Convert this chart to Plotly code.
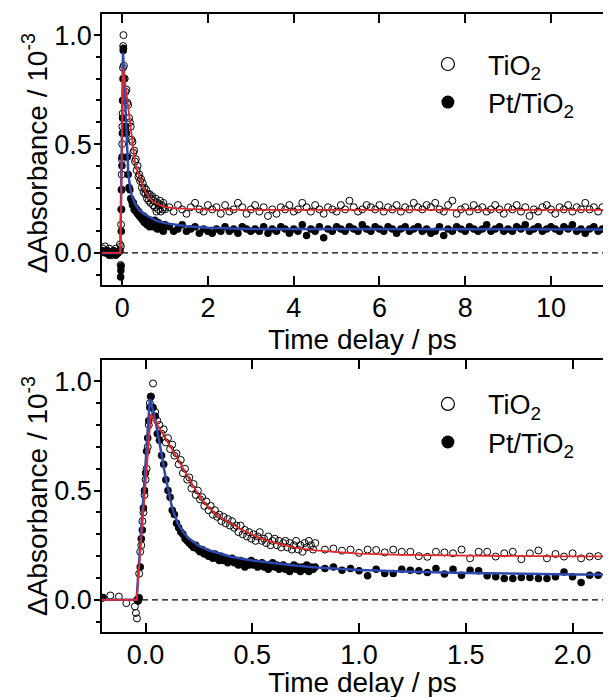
import numpy as np
import plotly.graph_objects as go


def grid(a, b, s):
    return [float(v) for v in np.round(np.arange(a, b + s / 2, s), 3)]


# ---------------- top panel (long scan) ----------------
top_t = (grid(-0.45, -0.05, 0.05) + grid(-0.035, 0.03, 0.005)
         + grid(0.04, 1.0, 0.02) + grid(1.1, 11.4, 0.1))

top_tio2 = (
    [0.02, 0.03, 0.01, 0.02, -0.01, 0.01, 0.02, 0.0, 0.04]
    + [-0.055, 0.03, 0.13, 0.2, 0.29, 0.36, 0.43, 0.5, 0.58, 0.64, 0.7, 0.85, 0.95, 1.0]
    + [0.86, 0.80, 0.74, 0.75, 0.69, 0.68, 0.62, 0.60, 0.58, 0.52,
       0.51, 0.46, 0.47, 0.42, 0.43, 0.38, 0.40, 0.35, 0.36, 0.33,
       0.34, 0.30, 0.32, 0.28, 0.30, 0.27, 0.29, 0.25, 0.27, 0.24,
       0.27, 0.23, 0.25, 0.26, 0.22, 0.24, 0.21, 0.25, 0.19, 0.23,
       0.20, 0.22, 0.24, 0.19, 0.22, 0.20, 0.23, 0.21, 0.20]
    + [0.21, 0.19, 0.22, 0.20, 0.18, 0.21, 0.23, 0.20, 0.19, 0.22,
       0.20, 0.21, 0.18, 0.22, 0.19, 0.20, 0.23, 0.21, 0.18, 0.20,
       0.22, 0.19, 0.21, 0.17, 0.20, 0.18, 0.21, 0.20, 0.22, 0.19,
       0.20, 0.23, 0.21, 0.19, 0.22, 0.20, 0.18, 0.21, 0.20, 0.19,
       0.22, 0.20, 0.24, 0.21, 0.19, 0.20, 0.22, 0.21, 0.20, 0.22,
       0.19, 0.21, 0.20, 0.22, 0.19, 0.21, 0.20, 0.23, 0.21, 0.20,
       0.22, 0.21, 0.23, 0.20, 0.19, 0.22, 0.24, 0.18, 0.20, 0.21,
       0.19, 0.22, 0.20, 0.21, 0.19, 0.20, 0.22, 0.20, 0.18, 0.21,
       0.20, 0.22, 0.19, 0.21, 0.17, 0.20, 0.19, 0.21, 0.22, 0.20,
       0.18, 0.21, 0.20, 0.22, 0.19, 0.21, 0.20, 0.23, 0.20, 0.21,
       0.19, 0.21, 0.20, 0.22]
)

top_pt = (
    [0.01, 0.0, 0.01, -0.01, 0.0, 0.01, -0.01, 0.0, 0.01]
    + [-0.11, -0.08, -0.06, 0.1, 0.2, 0.29, 0.4, 0.44, 0.55, 0.62, 0.7, 0.8, 0.93, 0.94]
    + [0.80, 0.70, 0.58, 0.55, 0.44, 0.36, 0.30, 0.29, 0.25, 0.24,
       0.22, 0.23, 0.20, 0.21, 0.19, 0.20, 0.18, 0.19, 0.17, 0.18,
       0.16, 0.17, 0.15, 0.17, 0.14, 0.16, 0.15, 0.13, 0.15, 0.14,
       0.12, 0.15, 0.13, 0.14, 0.12, 0.13, 0.15, 0.12, 0.13, 0.11,
       0.14, 0.12, 0.13, 0.11, 0.13, 0.12, 0.10, 0.12, 0.13]
    + [0.12, 0.10, 0.11, 0.13, 0.10, 0.11, 0.12, 0.09, 0.11, 0.10,
       0.09, 0.11, 0.10, 0.12, 0.10, 0.11, 0.09, 0.12, 0.11, 0.10,
       0.11, 0.10, 0.12, 0.09, 0.11, 0.10, 0.12, 0.11, 0.09, 0.11,
       0.10, 0.13, 0.08, 0.11, 0.10, 0.12, 0.07, 0.11, 0.10, 0.12,
       0.11, 0.10, 0.12, 0.11, 0.10, 0.13, 0.11, 0.10, 0.12, 0.11,
       0.10, 0.12, 0.11, 0.09, 0.11, 0.12, 0.10, 0.11, 0.12, 0.10,
       0.11, 0.09, 0.10, 0.12, 0.08, 0.11, 0.10, 0.12, 0.11, 0.10,
       0.12, 0.11, 0.10, 0.11, 0.13, 0.10, 0.11, 0.12, 0.10, 0.11,
       0.10, 0.12, 0.11, 0.13, 0.10, 0.11, 0.12, 0.10, 0.11, 0.12,
       0.11, 0.10, 0.12, 0.11, 0.13, 0.10, 0.11, 0.09, 0.11, 0.12,
       0.10, 0.11, 0.12, 0.11]
)

# ---------------- bottom panel (fine scan) ----------------
bot_t = ([-0.20, -0.165, -0.125, -0.09] + [-0.05, -0.045, -0.04]
         + grid(-0.035, 0.02, 0.005) + grid(0.025, 0.795, 0.01) + grid(0.84, 2.20, 0.04))

bot_tio2 = (
    [0.01, 0.02, 0.015, -0.015]
    + [-0.03, -0.06, -0.085]
    + [0.0, 0.12, 0.22, 0.25, 0.36, 0.40, 0.48, 0.55, 0.60, 0.70, 0.80, 0.90]
    + [0.93, 0.99, 0.86, 0.82, 0.80, 0.76, 0.78, 0.72, 0.74, 0.69,
       0.71, 0.66, 0.67, 0.62, 0.64, 0.58, 0.60, 0.55, 0.56, 0.51,
       0.53, 0.48, 0.50, 0.46, 0.47, 0.43, 0.45, 0.41, 0.43, 0.39,
       0.41, 0.38, 0.39, 0.36, 0.38, 0.35, 0.37, 0.34, 0.36, 0.33,
       0.34, 0.31, 0.34, 0.30, 0.32, 0.29, 0.31, 0.28, 0.30, 0.27,
       0.29, 0.31, 0.27, 0.28, 0.26, 0.29, 0.25, 0.27, 0.28, 0.25,
       0.27, 0.24, 0.26, 0.27, 0.24, 0.26, 0.23, 0.25, 0.27, 0.23,
       0.25, 0.22, 0.26, 0.24, 0.27, 0.25, 0.23, 0.26]
    + [0.23, 0.235, 0.225, 0.23, 0.215, 0.23, 0.228, 0.217, 0.23, 0.22,
       0.22, 0.20, 0.197, 0.22, 0.217, 0.213, 0.23, 0.19, 0.22, 0.22,
       0.198, 0.213, 0.22, 0.186, 0.213, 0.226, 0.19, 0.21, 0.198, 0.213,
       0.19, 0.198, 0.2, 0.2, 0.2]
)

bot_pt = (
    [0.01, None, None, None]
    + [None, None, 0.0]
    + [-0.005, 0.01, 0.15, 0.28, 0.32, 0.42, 0.50, 0.58, 0.68, 0.74, 0.82, 0.88]
    + [0.93, 0.88, 0.84, 0.76, 0.73, 0.66, 0.62, 0.55, 0.50, 0.47,
       0.41, 0.39, 0.35, 0.33, 0.31, 0.30, 0.28, 0.27, 0.26, 0.25,
       0.24, 0.25, 0.23, 0.22, 0.23, 0.21, 0.22, 0.20, 0.21, 0.19,
       0.21, 0.19, 0.18, 0.20, 0.18, 0.19, 0.17, 0.18, 0.19, 0.17,
       0.18, 0.16, 0.18, 0.17, 0.15, 0.17, 0.16, 0.18, 0.16, 0.17,
       0.15, 0.16, 0.17, 0.15, 0.16, 0.14, 0.16, 0.17, 0.15, 0.16,
       0.14, 0.15, 0.16, 0.14, 0.15, 0.13, 0.15, 0.16, 0.14, 0.15,
       0.13, 0.15, 0.14, 0.16, 0.13, 0.15, 0.14, 0.15]
    + [0.144, 0.15, 0.136, 0.144, 0.133, 0.11, 0.14, 0.121, 0.121, 0.14,
       0.136, 0.133, 0.125, 0.144, 0.118, 0.14, 0.113, 0.136, 0.133, 0.11,
       0.106, 0.098, 0.098, 0.102, 0.102, 0.098, 0.098, 0.106, 0.128, 0.106,
       0.079, 0.113, 0.113, 0.11, 0.11]
)

# ---------------- fitted curves ----------------
fit_t_tio2 = [-0.5, -0.042, 0.025, 0.05, 0.075, 0.1, 0.125, 0.15, 0.175, 0.2,
              0.225, 0.25, 0.275, 0.3, 0.35, 0.4, 0.45, 0.5, 0.55, 0.6,
              0.65, 0.7, 0.75, 0.8, 0.9, 1.0, 1.2, 1.5, 2.0, 3.0, 11.5]
fit_tio2 = [0, 0, 0.85, 0.81, 0.77, 0.73, 0.69, 0.647, 0.602, 0.558,
            0.515, 0.477, 0.445, 0.418, 0.378, 0.348, 0.322, 0.298, 0.278, 0.262,
            0.249, 0.239, 0.232, 0.226, 0.218, 0.212, 0.206, 0.202, 0.199, 0.198, 0.198]

fit_t_pt = [-0.5, -0.042, 0.02, 0.03, 0.04, 0.05, 0.06, 0.07, 0.08, 0.09,
            0.1, 0.11, 0.12, 0.13, 0.14, 0.15, 0.16, 0.18, 0.2, 0.225,
            0.25, 0.3, 0.35, 0.4, 0.5, 0.6, 0.7, 0.8, 1.0, 1.25,
            1.5, 2.0, 2.5, 3.0, 11.5]
fit_pt = [0, 0, 0.92, 0.89, 0.85, 0.80, 0.75, 0.70, 0.64, 0.58,
          0.53, 0.48, 0.44, 0.405, 0.375, 0.352, 0.335, 0.305, 0.283, 0.263,
          0.247, 0.226, 0.21, 0.197, 0.18, 0.168, 0.157, 0.148, 0.137, 0.129,
          0.123, 0.116, 0.112, 0.110, 0.108]

legend_names = ["TiO<sub>2</sub>", "Pt/TiO<sub>2</sub>"]
x_title = "Time delay / ps"
y_title = "ΔAbsorbance / 10<sup>-3</sup>"

assert len(top_t) == len(top_tio2) == len(top_pt)
assert len(bot_t) == len(bot_tio2) == len(bot_pt)
assert len(fit_t_tio2) == len(fit_tio2) and len(fit_t_pt) == len(fit_pt)

RED = "#e2282b"
BLUE = "#2d48ae"
FONT = "Arial, Liberation Sans, sans-serif"

fig = go.Figure()

panels = [("x", "y", top_t, top_tio2, top_pt, "legend"),
          ("x2", "y2", bot_t, bot_tio2, bot_pt, "legend2")]
for xa, ya, t, v_tio2, v_pt, leg in panels:
    fig.add_trace(go.Scatter(x=t, y=v_pt, mode="markers", xaxis=xa, yaxis=ya,
                             marker=dict(symbol="circle", size=7.5, color="black"),
                             showlegend=False, hoverinfo="skip"))
    fig.add_trace(go.Scatter(x=t, y=v_tio2, mode="markers", xaxis=xa, yaxis=ya,
                             marker=dict(symbol="circle-open", size=7, color="black",
                                         line=dict(width=1, color="black")),
                             showlegend=False, hoverinfo="skip"))
    fig.add_trace(go.Scatter(x=fit_t_pt, y=fit_pt, mode="lines", xaxis=xa, yaxis=ya,
                             line=dict(color=BLUE, width=2.5), showlegend=False,
                             hoverinfo="skip"))
    fig.add_trace(go.Scatter(x=fit_t_tio2, y=fit_tio2, mode="lines", xaxis=xa, yaxis=ya,
                             line=dict(color=RED, width=1.8), showlegend=False,
                             hoverinfo="skip"))
    # legend entries
    fig.add_trace(go.Scatter(x=[None], y=[None], mode="markers", xaxis=xa, yaxis=ya,
                             name=legend_names[0], legend=leg,
                             marker=dict(symbol="circle-open", size=13, color="black",
                                         line=dict(width=1.2, color="black"))))
    fig.add_trace(go.Scatter(x=[None], y=[None], mode="markers", xaxis=xa, yaxis=ya,
                             name=legend_names[1], legend=leg,
                             marker=dict(symbol="circle", size=13, color="black")))

tickfont = dict(family=FONT, size=27, color="black")
common_x = dict(showline=True, linecolor="black", linewidth=1.5, mirror="ticks",
                ticks="inside", ticklen=9, tickwidth=1.5, tickcolor="black",
                showgrid=False, zeroline=False, tickfont=tickfont, ticklabelstandoff=-2)
common_y = dict(showline=True, linecolor="black", linewidth=1.5, mirror=False,
                ticks="outside", ticklen=6, tickwidth=1.5, tickcolor="black",
                range=[-0.147, 1.097], dtick=0.5, tick0=0, tickformat=".1f",
                minor=dict(dtick=0.1, ticks="outside", ticklen=4, tickwidth=1.5,
                           tickcolor="black"),
                showgrid=False, zeroline=False, tickfont=tickfont, ticklabelstandoff=-3)
right_y = dict(side="right", range=[-0.147, 1.097], tickvals=[0, 0.5, 1.0],
               ticks="inside", ticklen=5, tickwidth=1.5, tickcolor="black",
               showticklabels=False, showline=False, showgrid=False, zeroline=False)

TOP_DOM = [0.5615, 1.0]
BOT_DOM = [0.0, 0.44]

# the page body adds an 8px offset, so the figure is 8px smaller each way
fig.update_layout(
    width=603, height=689,
    margin=dict(l=94, r=0, t=6, b=65),
    paper_bgcolor="white", plot_bgcolor="white",
    font=dict(family=FONT, size=27, color="black"),
    xaxis=dict(common_x, domain=[0, 1], anchor="y", range=[-0.47, 11.4], dtick=2, tick0=0),
    yaxis=dict(common_y, domain=TOP_DOM, anchor="x"),
    xaxis2=dict(common_x, domain=[0, 1], anchor="y2", range=[-0.204, 2.18], dtick=0.5,
                tick0=0, tickformat=".1f"),
    yaxis2=dict(common_y, domain=BOT_DOM, anchor="x2"),
    yaxis3=dict(right_y, overlaying="y", anchor="x"),
    yaxis4=dict(right_y, overlaying="y2", anchor="x2"),
    legend=dict(x=0.601, y=0.958, xanchor="left", yanchor="top", itemwidth=70,
                bgcolor="rgba(0,0,0,0)", font=dict(family=FONT, size=27)),
    legend2=dict(x=0.601, y=0.408, xanchor="left", yanchor="top", itemwidth=70,
                 bgcolor="rgba(0,0,0,0)", font=dict(family=FONT, size=27)),
    showlegend=True,
)

for ya in ["y", "y2"]:
    xa = "x" if ya == "y" else "x2"
    fig.add_shape(type="line", xref=f"{xa} domain", yref=ya, x0=0, x1=1, y0=0, y1=0,
                  line=dict(color="black", width=1.3, dash="6px,4px"), layer="below")

title_font = dict(family=FONT, size=28, color="black")
for ycen, ytit in [((TOP_DOM[0] + TOP_DOM[1]) / 2 - 0.006, 0.473),
                   ((BOT_DOM[0] + BOT_DOM[1]) / 2, -0.082)]:
    fig.add_annotation(text=y_title, xref="paper", yref="paper", x=0, y=ycen,
                       xanchor="center", yanchor="middle", xshift=-67, textangle=-90,
                       showarrow=False, font=title_font)
    fig.add_annotation(text=x_title, xref="paper", yref="paper", x=0.511, y=ytit,
                       xanchor="center", yanchor="middle", showarrow=False, font=title_font)

fig.write_html("out.html")
